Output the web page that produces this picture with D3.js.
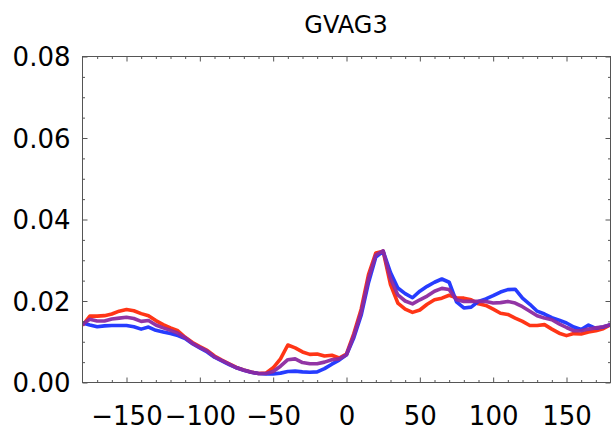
<!DOCTYPE html>
<html><head><meta charset="utf-8">
<script src="https://cdn.jsdelivr.net/npm/d3@7"></script>
<style>html,body{margin:0;padding:0;background:#fff;}svg{display:block;}</style>
</head><body>
<svg id="chart" width="612" height="431"></svg>
<script>
const title = "GVAG3";
const angles = d3.range(-180, 181, 5);
const redValues = [0.0140,0.0163,0.0163,0.0164,0.0168,0.0175,0.0179,0.0176,0.0169,0.0164,0.0152,0.0142,0.0134,0.0127,0.0111,0.0098,0.0088,0.0079,0.0065,0.0055,0.0046,0.0037,0.0031,0.0026,0.0022,0.0023,0.0036,0.0058,0.0092,0.0085,0.0075,0.0069,0.0070,0.0065,0.0067,0.0060,0.0070,0.0120,0.0180,0.0265,0.0318,0.0322,0.0240,0.0195,0.0180,0.0172,0.0178,0.0192,0.0203,0.0207,0.0214,0.0208,0.0207,0.0203,0.0193,0.0189,0.0180,0.0170,0.0167,0.0158,0.0150,0.0140,0.0140,0.0142,0.0131,0.0121,0.0115,0.0120,0.0119,0.0124,0.0127,0.0132,0.0142];
const blueValues = [0.0146,0.0141,0.0137,0.0139,0.0140,0.0140,0.0140,0.0137,0.0131,0.0136,0.0128,0.0124,0.0120,0.0115,0.0108,0.0095,0.0085,0.0075,0.0062,0.0053,0.0044,0.0036,0.0030,0.0025,0.0022,0.0021,0.0021,0.0023,0.0027,0.0028,0.0026,0.0025,0.0026,0.0034,0.0045,0.0055,0.0068,0.0110,0.0165,0.0245,0.0308,0.0322,0.0270,0.0232,0.0218,0.0208,0.0224,0.0236,0.0246,0.0254,0.0246,0.0198,0.0183,0.0185,0.0199,0.0205,0.0213,0.0222,0.0228,0.0229,0.0207,0.0192,0.0175,0.0168,0.0159,0.0153,0.0146,0.0136,0.0130,0.0141,0.0133,0.0136,0.0142];
const purpleValues = [0.0143,0.0155,0.0151,0.0151,0.0156,0.0158,0.0160,0.0157,0.0150,0.0152,0.0141,0.0134,0.0128,0.0121,0.0110,0.0096,0.0086,0.0077,0.0063,0.0054,0.0045,0.0036,0.0030,0.0025,0.0022,0.0022,0.0027,0.0040,0.0056,0.0058,0.0049,0.0046,0.0046,0.0050,0.0056,0.0058,0.0068,0.0115,0.0172,0.0255,0.0313,0.0323,0.0255,0.0215,0.0200,0.0193,0.0203,0.0212,0.0224,0.0231,0.0228,0.0203,0.0199,0.0199,0.0199,0.0199,0.0195,0.0196,0.0199,0.0195,0.0186,0.0175,0.0164,0.0158,0.0154,0.0144,0.0135,0.0127,0.0127,0.0131,0.0134,0.0137,0.0142];
const xTickValues = [-150,-100,-50,0,50,100,150];
const yTickValues = [0,0.02,0.04,0.06,0.08];

const series = [
  {name:"red", values:redValues, color:"#ff2a0a"},
  {name:"blue", values:blueValues, color:"#1a32ff"},
  {name:"purple", values:purpleValues, color:"#8c2aa0"}
];

const svg = d3.select("#chart");
const L = 82.5, R = 610.5, T = 56.5, B = 382.5;
const x = d3.scaleLinear().domain([-180,180]).range([L,R]);
const y = d3.scaleLinear().domain([0,0.08]).range([B,T]);

const frameColor = "#555";
const font = "'DejaVu Sans', sans-serif";

// lines
const line = d3.line().x((d,i)=>x(angles[i])).y(d=>y(d));
const clip = svg.append("clipPath").attr("id","clip").append("rect")
  .attr("x",L).attr("y",T).attr("width",R-L).attr("height",B-T);
svg.append("g").attr("clip-path","url(#clip)")
  .selectAll("path").data(series).join("path")
  .attr("d",d=>line(d.values))
  .attr("fill","none").attr("stroke",d=>d.color)
  .attr("stroke-width",3.6).attr("stroke-linejoin","round").attr("stroke-opacity",0.95);

// axes with inward ticks
const minorX = d3.range(-170,180,10).filter(v=>v%50!==0);
const minorY = d3.range(0,0.0801,0.005).filter(v=>Math.abs(Math.round(v*1000)%20)>0.5);

function tickAxis(axisFn, scale, vals, size, fmt, tr) {
  const g = svg.append("g").attr("transform",tr)
    .call(axisFn(scale).tickValues(vals).tickSizeInner(size).tickSizeOuter(0).tickFormat(fmt));
  g.select(".domain").remove();
  g.selectAll(".tick line").attr("stroke",frameColor).attr("stroke-width",1);
  return g;
}
const noF = () => "";
// bottom
const gb = tickAxis(d3.axisBottom, x, xTickValues, -5, d=> d<0 ? "\u2212"+Math.abs(d) : String(d), `translate(0,${B})`);
gb.selectAll("text").attr("font-family",font).attr("font-size",26).attr("fill","#000").attr("dy",null).attr("y",0).attr("transform","translate(0,42)").attr("text-anchor","middle");
tickAxis(d3.axisBottom, x, minorX, -2.5, noF, `translate(0,${B})`).selectAll("text").remove();
// top
tickAxis(d3.axisTop, x, xTickValues, -5, noF, `translate(0,${T})`).selectAll("text").remove();
tickAxis(d3.axisTop, x, minorX, -2.5, noF, `translate(0,${T})`).selectAll("text").remove();
// left
const gl = tickAxis(d3.axisLeft, y, yTickValues, -5, d3.format(".2f"), `translate(${L},0)`);
gl.selectAll("text").attr("font-family",font).attr("font-size",26).attr("fill","#000").attr("x",-12).attr("dy","0.36em").attr("text-anchor","end");
tickAxis(d3.axisLeft, y, minorY, -2.5, noF, `translate(${L},0)`).selectAll("text").remove();
// right
tickAxis(d3.axisRight, y, yTickValues, -5, noF, `translate(${R},0)`).selectAll("text").remove();
tickAxis(d3.axisRight, y, minorY, -2.5, noF, `translate(${R},0)`).selectAll("text").remove();

// frame
svg.append("rect").attr("x",L).attr("y",T).attr("width",R-L).attr("height",B-T)
  .attr("fill","none").attr("stroke",frameColor).attr("stroke-width",1);

// title
svg.append("text").attr("x",346).attr("y",33).attr("text-anchor","middle")
  .attr("font-family",font).attr("font-size",24).attr("fill","#000").text(title);
</script>
</body></html>
